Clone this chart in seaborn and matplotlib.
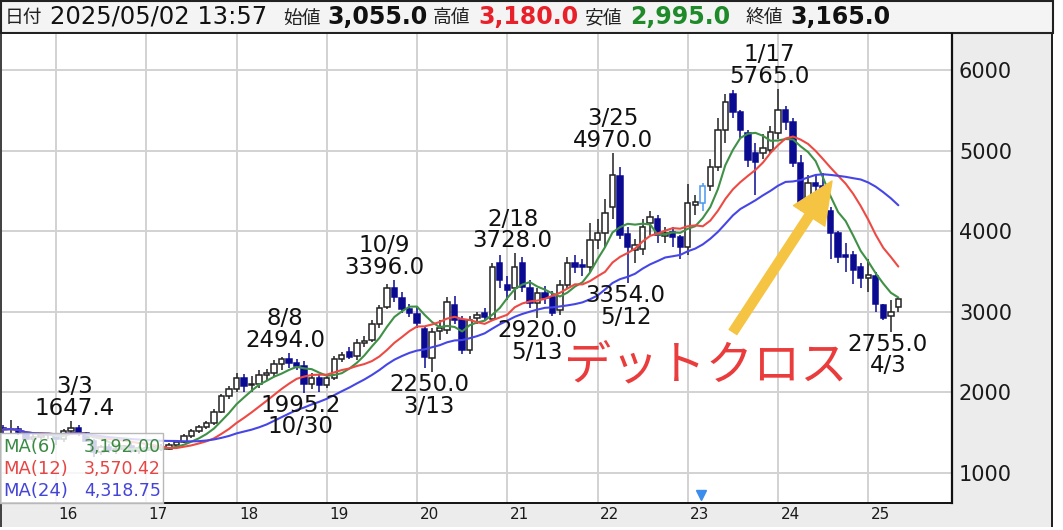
import numpy as np
import pandas as pd
import matplotlib
matplotlib.use("Agg")
import matplotlib.pyplot as plt
import seaborn as sns
from matplotlib.patches import Rectangle

# ---------------- data (monthly OHLC, 2015-06 .. 2025-05) ----------------
start_month = "2015-06"
opens = [1560, 1540, 1550, 1500, 1420, 1450, 1470,
         1480, 1420, 1520, 1560, 1500, 1400, 1260, 1320, 1280, 1300, 1330, 1270,
         1310, 1290, 1320, 1300, 1350, 1380, 1460, 1520, 1570, 1620, 1760, 1950,
         2040, 2180, 2090, 2110, 2210, 2240, 2350, 2420, 2360, 2330, 2100, 2180,
         2090, 2180, 2420, 2500, 2450, 2610, 2650, 2850, 3060, 3300, 3170, 3040,
         2970, 2790, 2430, 2760, 2780, 3080, 2900, 2520, 2920, 2980, 2910, 3600,
         3330, 3300, 3600, 3300, 3110, 3230, 3180, 3020, 3330, 3610, 3580, 3560,
         3890, 3980, 4300, 4680, 3960, 3770, 3780, 4100, 4150, 3940, 3990, 3930,
         3800, 4320, 4350, 4560, 4800, 5250, 5700, 5480, 5220, 4970, 4970, 5010,
         5220, 5500, 5360, 4850, 4400, 4600, 4560, 4250, 3980, 3700, 3700, 3550,
         3420, 3440, 3080, 2950, 3055]
highs = [1600, 1660, 1580, 1520, 1480, 1500, 1490,
         1500, 1540, 1647.4, 1590, 1510, 1420, 1350, 1360, 1330, 1350, 1380, 1340,
         1350, 1340, 1360, 1370, 1400, 1480, 1540, 1590, 1640, 1790, 1980, 2080,
         2240, 2230, 2200, 2280, 2290, 2400, 2440, 2494, 2420, 2390, 2240, 2230,
         2200, 2450, 2500, 2560, 2660, 2700, 2900, 3090, 3340, 3396, 3250, 3100,
         3060, 2830, 2800, 2900, 3180, 3200, 2950, 2950, 3000, 3050, 3600, 3700,
         3450, 3728, 3680, 3400, 3300, 3320, 3260, 3400, 3680, 3700, 3650, 4100,
         4150, 4400, 4970, 4800, 4050, 3900, 4150, 4250, 4200, 4050, 4050, 3950,
         4580, 4450, 4600, 4900, 5400, 5700, 5750, 5500, 5260, 5100, 5200, 5300,
         5765, 5550, 5400, 4950, 4700, 4700, 4720, 4300, 4000, 3850, 3750, 3600,
         3650, 3500, 3100, 3150, 3180]
lows = [1500, 1490, 1470, 1380, 1380, 1410, 1420,
        1350, 1380, 1480, 1460, 1380, 1200, 1220, 1250, 1230, 1260, 1250, 1240,
        1260, 1260, 1270, 1280, 1320, 1370, 1440, 1500, 1540, 1600, 1740, 1920,
        2010, 2010, 2000, 2060, 2150, 2200, 2280, 2300, 2280, 1995.2, 2040, 2010,
        2050, 2160, 2380, 2420, 2400, 2560, 2620, 2800, 3040, 3120, 2980, 2930,
        2800, 2300, 2250, 2650, 2720, 2850, 2480, 2480, 2850, 2880, 2880, 3300,
        3150, 3150, 3250, 3050, 2920, 3100, 2950, 2960, 3280, 3480, 3450, 3500,
        3780, 3800, 4150, 3900, 3354, 3600, 3700, 3950, 3850, 3850, 3800, 3650,
        3700, 4200, 4250, 4500, 4750, 5100, 5400, 5150, 4800, 4450, 4900, 4960,
        5150, 5250, 4800, 4250, 4350, 4450, 4100, 3650, 3600, 3500, 3350, 3300,
        3250, 3000, 2900, 2755, 2995]
closes = [1540, 1550, 1510, 1420, 1450, 1470, 1480,
          1420, 1520, 1560, 1500, 1400, 1260, 1320, 1280, 1300, 1330, 1270, 1310,
          1290, 1320, 1300, 1350, 1380, 1460, 1520, 1570, 1620, 1760, 1950, 2040,
          2180, 2080, 2110, 2210, 2240, 2350, 2410, 2360, 2330, 2100, 2180, 2090,
          2180, 2420, 2460, 2440, 2610, 2640, 2850, 3050, 3290, 3180, 3030, 2980,
          2860, 2440, 2750, 2800, 3120, 2900, 2530, 2900, 2960, 2930, 3560, 3400,
          3270, 3560, 3310, 3110, 3230, 3170, 2990, 3330, 3600, 3560, 3550, 3890,
          3980, 4230, 4700, 3950, 3800, 3830, 4050, 4170, 3950, 3980, 3930, 3800,
          4350, 4360, 4560, 4800, 5250, 5600, 5480, 5250, 4880, 4860, 5030, 5230,
          5500, 5360, 4850, 4350, 4600, 4560, 4250, 3980, 3680, 3680, 3520, 3420,
          3460, 3100, 2920, 3000, 3165]

ma_windows = [6, 12, 24]
ma_names = ["MA(6)", "MA(12)", "MA(24)"]
ma_legend_values = ["3,192.00", "3,570.42", "4,318.75"]

year_labels = ["16", "17", "18", "19", "20", "21", "22", "23", "24", "25"]
y_ticks = [1000, 2000, 3000, 4000, 5000, 6000]

peak_months = ["2016-03", "2018-08", "2019-10", "2021-02", "2022-03", "2024-01"]
peak_dates = ["3/3", "8/8", "10/9", "2/18", "3/25", "1/17"]
trough_months = ["2018-10", "2020-03", "2021-05", "2022-05", "2025-04"]
trough_dates = ["10/30", "3/13", "5/13", "5/12", "4/3"]
marked_month = "2023-03"

header_items = [("日付", "label"), ("2025/05/02 13:57", "plain"),
                ("始値", "label"), ("3,055.0", "open"),
                ("高値", "label"), ("3,180.0", "high"),
                ("安値", "label"), ("2,995.0", "low"),
                ("終値", "label"), ("3,165.0", "close")]
callout_text = "デットクロス"

# ---------------- style ----------------
sns.set_style("white")
plt.rcParams["font.family"] = ["DejaVu Sans", "Noto Sans CJK JP"]
CJK = ["Noto Sans CJK JP", "DejaVu Sans"]

W, H = 1063, 530
def fx(px): return px / W
def fy(py): return 1 - py / H

PX_PER_MONTH = 90.25 / 12
JAN16_PX = 56.0
def px_to_idx(px): return 7 + (px - JAN16_PX) / PX_PER_MONTH
def py_to_val(py): return 1000 + (473 - py) / 0.0806

fig = plt.figure(figsize=(W / 100, H / 100), dpi=100)
fig.patch.set_facecolor("white")

PLOT_L, PLOT_R, PLOT_T, PLOT_B = 2, 952, 34, 503
ax = fig.add_axes([fx(PLOT_L), fy(PLOT_B), (PLOT_R - PLOT_L) / W, (PLOT_B - PLOT_T) / H])
ax.set_facecolor("white")

months = pd.period_range(start_month, periods=len(closes), freq="M")
n = len(closes)
x = np.arange(n)
o = np.array(opens, float); h = np.array(highs, float)
l = np.array(lows, float); c = np.array(closes, float)
up = c >= o
idx_of = {str(m): i for i, m in enumerate(months)}

# grid
jan_idx = [i for i, m in enumerate(months) if m.month == 1]
for j in jan_idx:
    ax.axvline(j, color="#d2d2d2", lw=1.4, zorder=0)
for yv in y_ticks:
    ax.axhline(yv, color="#d2d2d2", lw=1.4, zorder=0)

# candles
BEAR = "#0b0b92"
bull_edge = ["#4a98ee" if str(m) == marked_month else "#222222" for m in months]
bottom = np.minimum(o, c)
height = np.maximum(np.abs(c - o), 12)
ax.vlines(x[up], l[up], h[up], color=[bull_edge[i] for i in x[up]], lw=1.1, zorder=2)
ax.vlines(x[~up], l[~up], h[~up], color=BEAR, lw=1.1, zorder=2)
ax.bar(x[up], height[up], bottom=bottom[up], width=0.72, color="white",
       edgecolor=[bull_edge[i] for i in x[up]], linewidth=1.1, zorder=3)
ax.bar(x[~up], height[~up], bottom=bottom[~up], width=0.72, color=BEAR,
       edgecolor=BEAR, linewidth=1.1, zorder=3)

# moving averages
ma_colors = {"MA(6)": "#3f9146", "MA(12)": "#ee4a44", "MA(24)": "#4646e6"}
df = pd.DataFrame({"x": x, "close": c})
for w, name in zip(ma_windows, ma_names):
    df[name] = df["close"].rolling(w, min_periods=1).mean()
long = df.melt(id_vars="x", value_vars=ma_names, var_name="ma", value_name="v")
sns.lineplot(data=long, x="x", y="v", hue="ma", palette=ma_colors, ax=ax,
             legend=False, linewidth=1.5, zorder=4)

# annotations
peak_dx = [4, -4, -10, -2, 0, -9]
for m, d, dx in zip(peak_months, peak_dates, peak_dx):
    i = idx_of[m]
    ax.annotate(f"{d}\n{h[i]:.1f}", xy=(i, h[i]), xytext=(dx, 1),
                textcoords="offset pixels", ha="center", va="bottom",
                fontsize=16.5, linespacing=0.92, color="#111111", zorder=6)
trough_dx = [-4, -3, 0, -2, -3]
for m, d, dx in zip(trough_months, trough_dates, trough_dx):
    i = idx_of[m]
    ax.annotate(f"{l[i]:.1f}\n{d}", xy=(i, l[i]), xytext=(dx, -1),
                textcoords="offset pixels", ha="center", va="top",
                fontsize=16.5, linespacing=0.92, color="#111111", zorder=6)

# death cross callout
ax.annotate("", xy=((832 - PLOT_L) / (PLOT_R - PLOT_L), (PLOT_B - 181) / (PLOT_B - PLOT_T)),
            xytext=((733 - PLOT_L) / (PLOT_R - PLOT_L), (PLOT_B - 332) / (PLOT_B - PLOT_T)),
            xycoords="axes fraction", textcoords="axes fraction",
            arrowprops=dict(arrowstyle="simple,head_length=1.5,head_width=1.35,tail_width=0.33",
                            color="#f6c443", mutation_scale=20, shrinkA=0, shrinkB=0),
            zorder=7)
ax.text((706 - PLOT_L) / (PLOT_R - PLOT_L), (PLOT_B - 367) / (PLOT_B - PLOT_T), callout_text,
        transform=ax.transAxes, ha="center", va="center", fontsize=34,
        color="#ea3c3c", family=CJK, zorder=7)

# marker triangle
ax.plot([idx_of[marked_month] - 0.3], [0.018], marker="v", ms=7, color="#3b8ded",
        transform=ax.get_xaxis_transform(), clip_on=False, zorder=8, ls="none")

ax.set_xlim(px_to_idx(PLOT_L), px_to_idx(PLOT_R))
ax.set_ylim(py_to_val(PLOT_B), py_to_val(PLOT_T))

# axes ticks
ax.yaxis.tick_right()
ax.set_yticks(y_ticks)
ax.set_yticklabels([str(v) for v in y_ticks], fontsize=15, color="#1a1a1a")
ax.tick_params(axis="y", length=0, pad=5)
ax.set_xticks([j + 1.6 for j in jan_idx])
ax.set_xticklabels(year_labels, fontsize=11, color="#1a1a1a")
ax.tick_params(axis="x", length=0, pad=3)
ax.set_xlabel(""); ax.set_ylabel("")
for s in ["top", "left"]:
    ax.spines[s].set_visible(False)
ax.spines["right"].set_color("#111111"); ax.spines["right"].set_linewidth(1.6)
ax.spines["bottom"].set_color("#111111"); ax.spines["bottom"].set_linewidth(1.4)

# background panels (figure level, behind axes)
fig.patches.append(Rectangle((fx(PLOT_R), fy(PLOT_B)), fx(1052) - fx(PLOT_R), fy(PLOT_T) - fy(PLOT_B),
                             transform=fig.transFigure, facecolor="#ececec", edgecolor="none", zorder=-5))
fig.patches.append(Rectangle((0, fy(527)), fx(1052), fy(PLOT_B) - fy(527),
                             transform=fig.transFigure, facecolor="#ececec", edgecolor="none", zorder=-5))
fig.patches.append(Rectangle((fx(1051), fy(527)), fx(2), fy(PLOT_T) - fy(527),
                             transform=fig.transFigure, facecolor="#222222", edgecolor="none", zorder=-4))
fig.patches.append(Rectangle((0, fy(527)), fx(2), fy(0) - fy(527),
                             transform=fig.transFigure, facecolor="#444444", edgecolor="none", zorder=-4))
# header bar
fig.patches.append(Rectangle((fx(1), fy(33)), fx(1053) - fx(1), fy(1) - fy(33),
                             transform=fig.transFigure, facecolor="#f4f4f4", edgecolor="#222222",
                             linewidth=1.5, zorder=-3))

# header texts
header_x = [5, 50, 283, 327, 433, 478, 585, 630, 745, 790]
header_colors = {"label": "#222222", "plain": "#111111", "open": "#111111",
                 "high": "#e8202a", "low": "#1f8a2a", "close": "#111111"}
for (txt, kind), px in zip(header_items, header_x):
    if kind == "label":
        fig.text(fx(px), fy(18), txt, fontsize=13.5, family=CJK, color=header_colors[kind],
                 ha="left", va="center")
    elif kind == "plain":
        fig.text(fx(px), fy(17), txt, fontsize=17.5, color=header_colors[kind],
                 ha="left", va="center")
    else:
        fig.text(fx(px), fy(17), txt, fontsize=17, fontweight="bold",
                 color=header_colors[kind], ha="left", va="center")

# MA legend box
fig.patches.append(Rectangle((fx(0), fy(503)), fx(163), fy(433) - fy(503),
                             transform=fig.transFigure, facecolor=(1, 1, 1, 0.82),
                             edgecolor="#b8b8b8", linewidth=1.0, zorder=10))
legend_text_colors = ["#3a8a42", "#e84444", "#4444d8"]
for k, (name, val) in enumerate(zip(ma_names, ma_legend_values)):
    yy = 447 + 22 * k
    t1 = fig.text(fx(3), fy(yy), name, fontsize=13, color=legend_text_colors[k],
                  ha="left", va="center")
    t2 = fig.text(fx(161), fy(yy), val, fontsize=12.5, color=legend_text_colors[k],
                  ha="right", va="center")
    t1.set_zorder(11); t2.set_zorder(11)

fig.savefig("out.png", dpi=100)
